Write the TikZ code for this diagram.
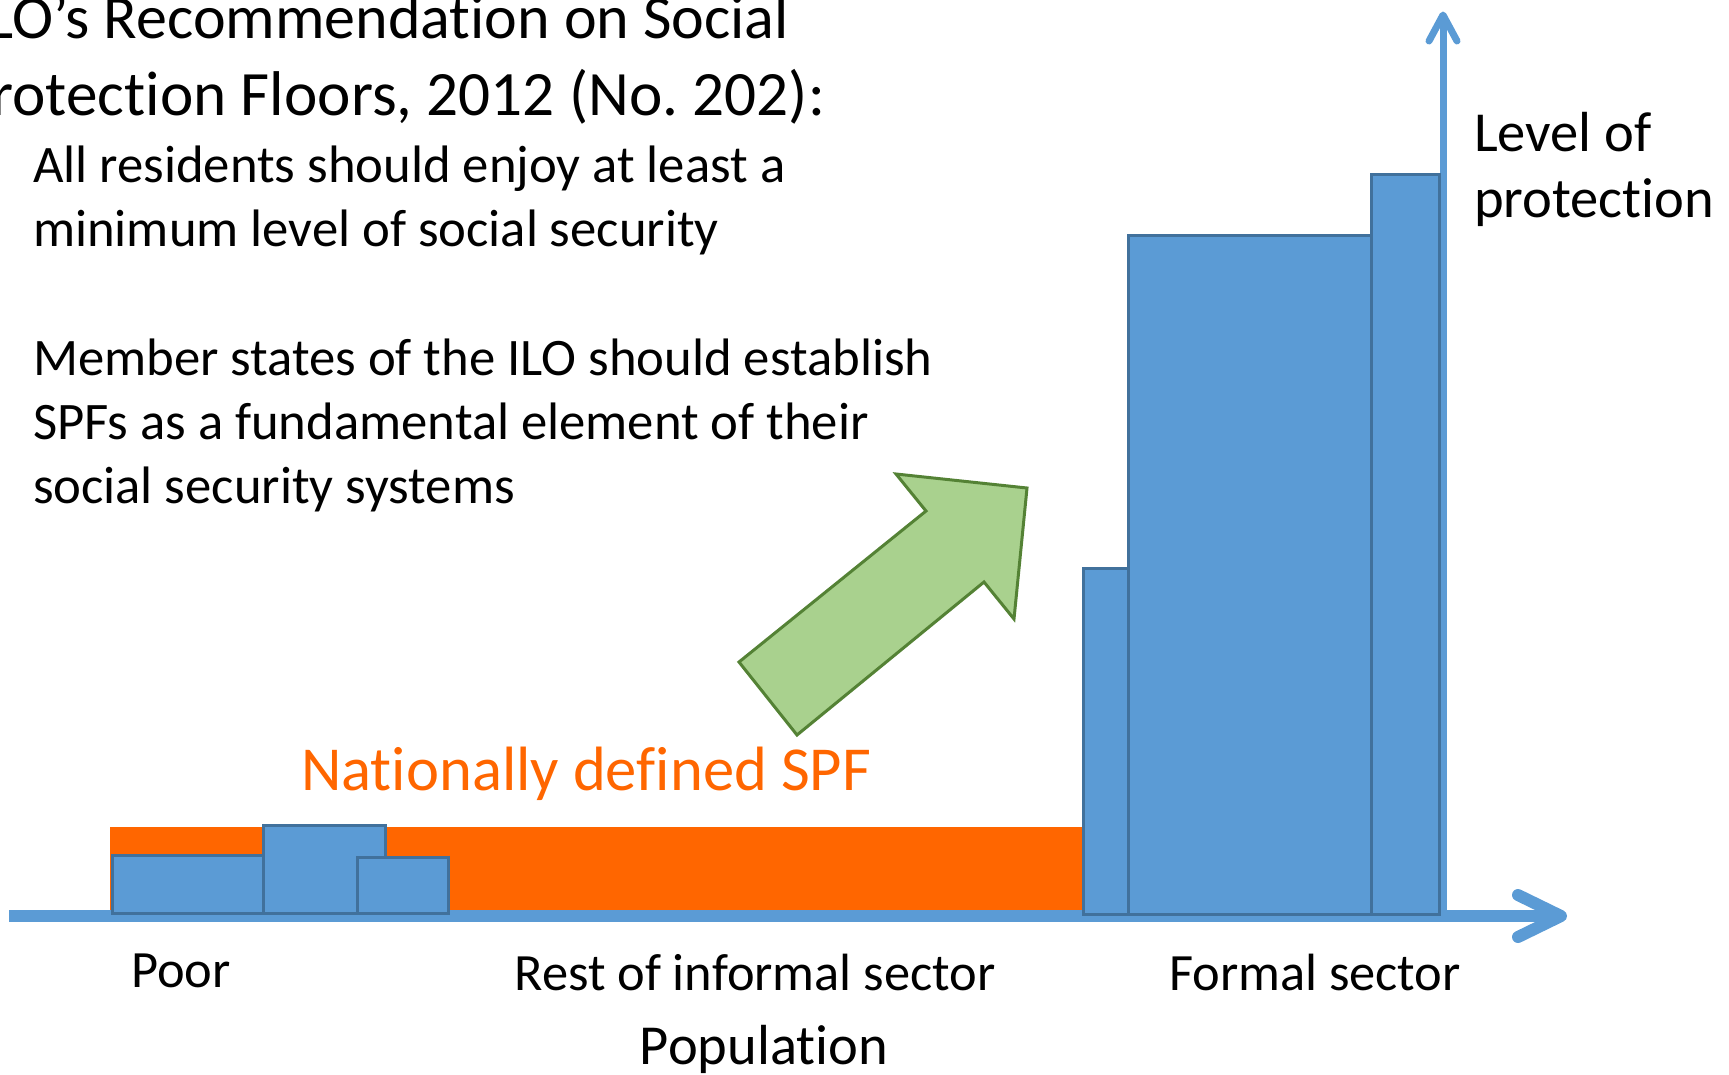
\documentclass[tikz,border=0pt]{standalone}
\usepackage{fontspec}
\setmainfont{Carlito}[Ligatures={NoCommon,NoRare,NoDiscretionary}]
\definecolor{barfill}{HTML}{5B9BD5}
\definecolor{barline}{HTML}{41719C}
\definecolor{axiscol}{HTML}{5B9BD5}
\definecolor{spforange}{HTML}{FF6600}
\definecolor{arrowfill}{HTML}{A9D18E}
\definecolor{arrowline}{HTML}{548235}
\newcommand{\fsz}[1]{\fontsize{#1}{#1}\selectfont}
\frenchspacing
\begin{document}
\begin{tikzpicture}[x=1pt,y=-1pt,
  bar/.style={fill=barfill,draw=barline,line width=3pt},
  axisline/.style={draw=axiscol,line cap=butt},
  tipline/.style={draw=axiscol,line cap=round,line join=round},
  txt/.style={inner sep=0pt,outer sep=0pt,text=black},
  title/.style={txt,font=\fsz{62}},
  body/.style={txt,font=\fsz{52.7}},
  label/.style={txt,font=\fsz{52.4}},
  axlabel/.style={txt,font=\fsz{56.5}}]
\useasboundingbox (0,0) rectangle (1729,1074);

% floor band
\fill[spforange] (110,827) rectangle (1083,912);

% axes
\coordinate (origin) at (9,916);
\coordinate (xend) at (1556,916);
\coordinate (corner) at (1443,916);
\coordinate (yend) at (1443,20);
\draw[axisline,line width=12pt] (origin) -- (xend);
\draw[axisline,line width=7pt] (corner) -- (yend);
\coordinate (xtip) at (1561,916);
\coordinate (ytip) at (1443,15);
\draw[tipline,line width=12pt] (1518,895) -- (xtip) -- (1518,937);
\draw[tipline,line width=7pt] (1429,41) -- (ytip) -- (1457,41);

% benefit bars of the poor and the informal sector
\draw[bar] (112,855) rectangle (263,913);
\draw[bar] (263,825) rectangle (385,913);
\draw[bar] (357,857) rectangle (448,913);

% benefit bars of the formal sector
\draw[bar] (1083,568) rectangle (1128,914);
\draw[bar] (1128,235) rectangle (1371,914);
\draw[bar] (1371,174) rectangle (1439,914);

% upward block arrow
\coordinate (a1) at (739,662);
\coordinate (a2) at (797,735);
\coordinate (a3) at (984,582);
\coordinate (a4) at (1014,619);
\coordinate (a5) at (1027,488);
\coordinate (a6) at (896,474);
\coordinate (a7) at (926,511);
\draw[fill=arrowfill,draw=arrowline,line width=3pt,line join=miter]
  (a1) -- (a2) -- (a3) -- (a4) -- (a5) -- (a6) -- (a7) -- cycle;

% heading
\node[title,anchor=base east] (t1) at (789,38) {ILO’s Recommendation on Social};
\node[title,font=\fsz{63.2},anchor=base east] (t2) at (825,115) {Protection Floors, 2012 (No. 202):};

% body text
\node[body,anchor=base west] (b1) at (33,182) {All residents should enjoy at least a};
\node[body,anchor=base west] (b2) at (33,246) {minimum level of social security};
\node[body,anchor=base west] (b3) at (33,375) {Member states of the ILO should establish};
\node[body,anchor=base west] (b4) at (33,439) {SPFs as a fundamental element of their};
\node[body,anchor=base west] (b5) at (33,503) {social security systems};

% floor label
\node[txt,font=\fsz{62.6},text=spforange,anchor=base west] (spf) at (301,790) {Nationally defined SPF};

% axis labels
\node[axlabel,anchor=base west] (lv1) at (1474,151) {Level of};
\node[axlabel,anchor=base west] (lv2) at (1474,217) {protection};
\node[label,anchor=base] (poor) at (181,987) {Poor};
\node[label,anchor=base] (rest) at (755,990) {Rest of informal sector};
\node[label,anchor=base] (formal) at (1315,990) {Formal sector};
\node[axlabel,anchor=base] (pop) at (764,1064) {Population};
\end{tikzpicture}
\end{document}
